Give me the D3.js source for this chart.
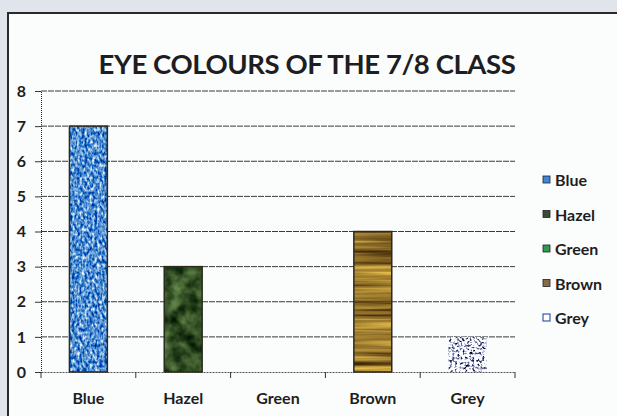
<!DOCTYPE html>
<html><head><meta charset="utf-8">
<script src="https://cdn.jsdelivr.net/npm/d3@7"></script>
<style>
html,body{margin:0;padding:0;background:#dfe5ea;}
svg{display:block;}
text{font-family:Lato,"Open Sans",sans-serif;font-weight:700;fill:#1e1e22;}
</style></head><body>
<script>
const categories = ["Blue","Hazel","Green","Brown","Grey"];
const counts = [7,3,0,4,1];
const yTicks = [0,1,2,3,4,5,6,7,8];
const title = "EYE COLOURS OF THE 7/8 CLASS";

const W = 617, H = 416;
const svg = d3.select("body").append("svg").attr("width",W).attr("height",H);
const defs = svg.append("defs");

// texture filters (deterministic SVG noise)
function texFilter(id, freq, oct, seed, rows){
  const f = defs.append("filter").attr("id",id).attr("x","0").attr("y","0").attr("width","1").attr("height","1")
    .attr("color-interpolation-filters","sRGB");
  f.append("feTurbulence").attr("type","fractalNoise").attr("baseFrequency",freq).attr("numOctaves",oct).attr("seed",seed).attr("result","n");
  f.append("feColorMatrix").attr("in","n").attr("type","matrix").attr("values",rows).attr("result","c");
  f.append("feComposite").attr("in","c").attr("in2","SourceGraphic").attr("operator","in");
}
texFilter("tex-Blue","0.4 0.25",2,3,"2.0 0 0 0 -0.68  1.4 0 0 0 -0.14  0.6 0 0 0 0.52  0 0 0 0 1");
texFilter("tex-Hazel","0.07",3,7,"0.6 0 0 0 -0.1  0.7 0 0 0 -0.04  0.45 0 0 0 -0.08  0 0 0 0 1");
texFilter("tex-Brown","0.006 0.18",3,11,"1.1 0 0 0 0.05  1.0 0 0 0 -0.03  0.45 0 0 0 -0.05  0 0 0 0 1");
texFilter("tex-Grey","0.4",2,5,"-3.6 0 0 0 2.7  -3.6 0 0 0 2.72  -3.2 0 0 0 2.6  0 0 0 0 1");

// frame
svg.append("rect").attr("x",8).attr("y",13).attr("width",W).attr("height",H)
  .attr("fill","#fbfcfc").attr("stroke","#2a2a2a").attr("stroke-width",2);

const x = d3.scaleBand().domain(categories).range([41,515]).paddingInner(0.6).paddingOuter(0.3);
const y = d3.scaleLinear().domain([0,8]).range([372,91]);

svg.append("text").attr("x",307).attr("y",74).attr("text-anchor","middle")
  .attr("font-size",27.5).attr("letter-spacing",-0.4).attr("fill","#222").text(title);

// gridlines
svg.append("g").selectAll("line").data(yTicks.filter(d=>d>0)).join("line")
  .attr("x1",41).attr("x2",515).attr("y1",d=>y(d)).attr("y2",d=>y(d))
  .attr("stroke","#3a3a3a").attr("stroke-width",1).attr("stroke-dasharray","6,1");

// y axis
const ya = svg.append("g").attr("transform","translate(41,0)")
  .call(d3.axisLeft(y).tickValues(yTicks).tickSize(6).tickPadding(9).tickFormat(d3.format("d")));
ya.select(".domain").attr("stroke","#222").attr("stroke-dasharray","1,1");
ya.selectAll(".tick line").attr("stroke","#333");
ya.selectAll("text").attr("font-size",16).attr("font-family","Lato").attr("font-weight",700).attr("fill","#1e1e22");

// x axis
const xa = svg.append("g").attr("transform","translate(0,372)")
  .call(d3.axisBottom(x).tickSize(0).tickPadding(21));
xa.select(".domain").attr("stroke","#555").attr("stroke-dasharray","2,1");
xa.selectAll("text").attr("font-size",16).attr("font-family","Lato").attr("font-weight",700).attr("fill","#1e1e22");
// boundary ticks
const bounds = d3.range(categories.length+1).map(i=>41 + i*x.step());
svg.append("g").selectAll("line").data(bounds).join("line")
  .attr("x1",d=>d).attr("x2",d=>d).attr("y1",372).attr("y2",378).attr("stroke","#333");

// bars
const bars = svg.append("g").selectAll("g").data(categories.map((c,i)=>({c,v:counts[i]})).filter(d=>d.v>0)).join("g");
bars.append("rect").attr("x",d=>x(d.c)).attr("width",x.bandwidth())
  .attr("y",d=>y(d.v)).attr("height",d=>y(0)-y(d.v))
  .attr("fill","#000").attr("filter",d=>`url(#tex-${d.c})`);
bars.append("rect").attr("x",d=>x(d.c)).attr("width",x.bandwidth())
  .attr("y",d=>y(d.v)).attr("height",d=>y(0)-y(d.v))
  .attr("fill","none").attr("stroke",d=>d.c==="Grey"?"none":"#2a2a1e").attr("stroke-width",1.5);

// legend
const swatch = {Blue:"#3f86dc",Hazel:"#3b4a3a",Green:"#2f9a52",Brown:"#8a6c44",Grey:"#ffffff"};
const lg = svg.append("g").selectAll("g").data(categories).join("g")
  .attr("transform",(d,i)=>`translate(543,${180 + i*34.5})`);
lg.append("rect").attr("x",0).attr("y",-4).attr("width",7).attr("height",7)
  .attr("fill",d=>swatch[d]).attr("stroke",d=>d==="Grey"?"#3a5aa8":"#222").attr("stroke-width",d=>d==="Grey"?1.2:0.8);
lg.append("text").attr("x",12).attr("y",6).attr("font-size",16).text(d=>d);
</script>
</body></html>
